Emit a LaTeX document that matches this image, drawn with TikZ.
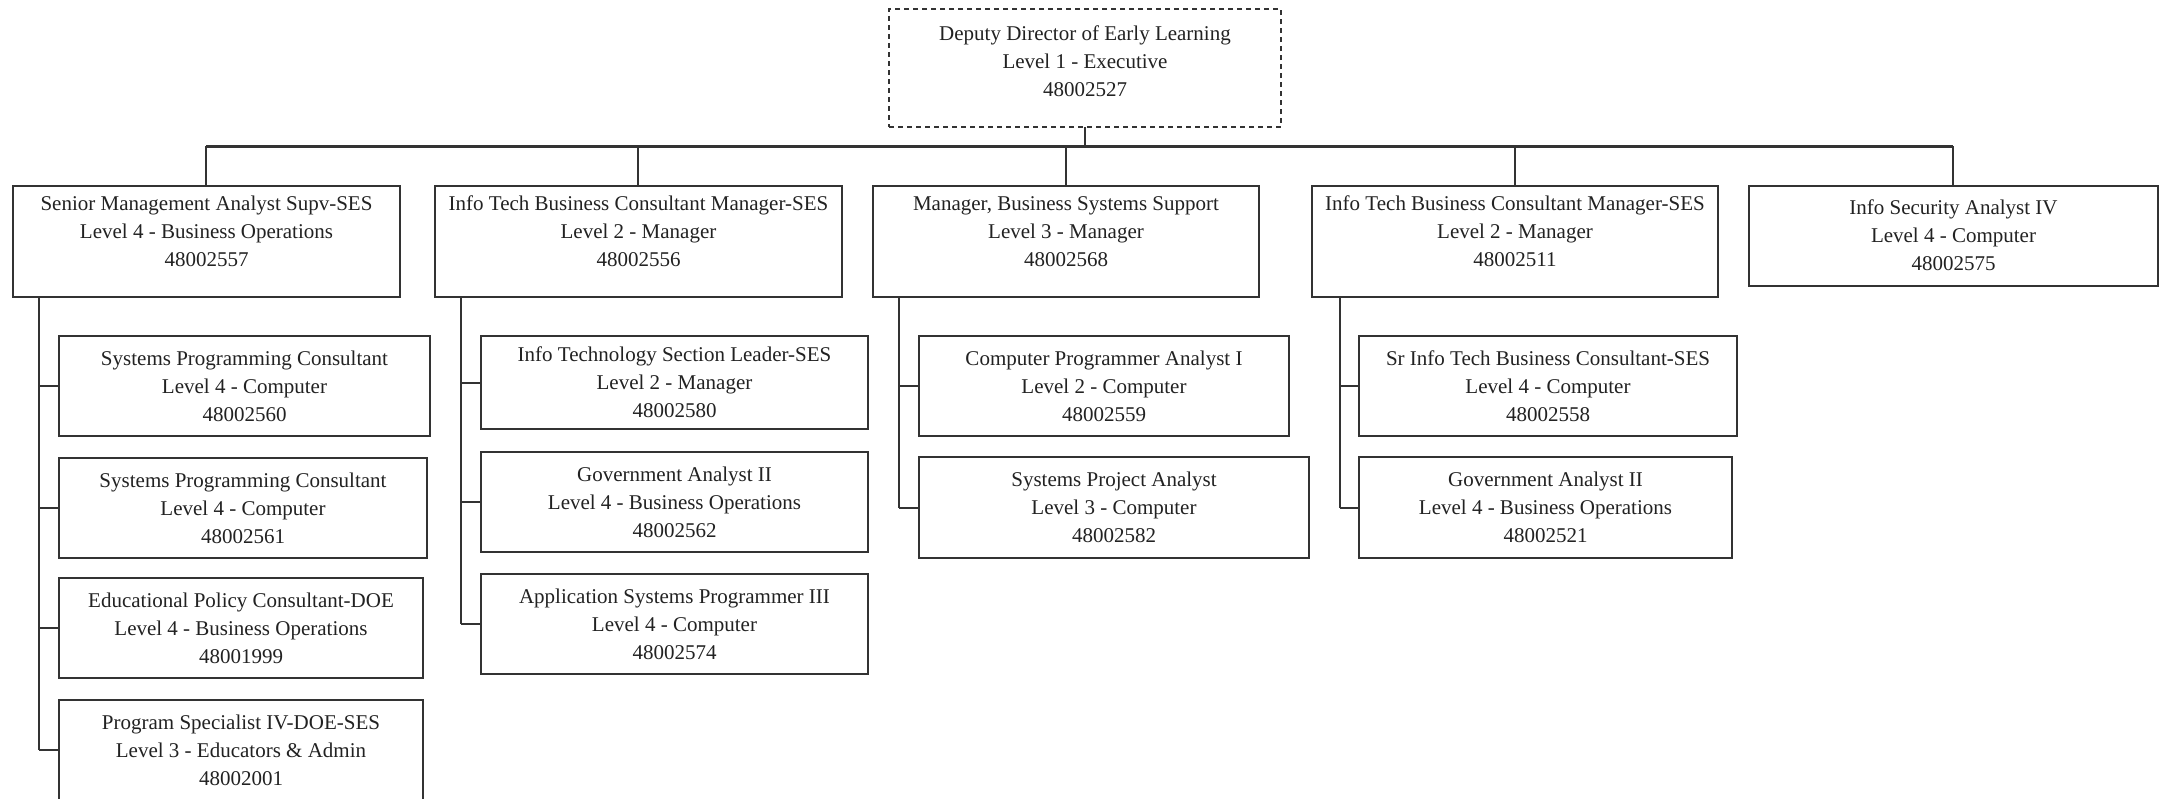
\documentclass[tikz,border=0pt]{standalone}
\usepackage{fontspec}
\setmainfont{Liberation Serif}
\usetikzlibrary{calc}
\definecolor{ink}{HTML}{222222}
\definecolor{edge}{HTML}{333333}
\tikzset{
  posbox/.style={draw=edge, line width=2.6pt, fill=white, rectangle, inner sep=0pt, outer sep=0pt},
  headbox/.style={posbox, draw=edge, line width=2pt, dash pattern=on 5pt off 4pt},
  txt/.style={align=center, text=ink, font=\fontsize{21}{28}\selectfont, inner sep=0pt},
  link/.style={draw=edge, line width=2pt},
  bus/.style={draw=edge, line width=3pt}
}
% \obox{name}{style}{x1}{y1}{x2}{y2}{text offset}{text}
\newcommand\obox[8]{%
  \node[#2, minimum width={(#5-#3)*1pt}, minimum height={(#6-#4)*1pt}]
    (#1) at ({(#3+#5)/2},{(#4+#6)/2}) {};
  \node[txt] (#1t) at ([yshift=#7pt]#1.center) {#8};
}
\begin{document}
\begin{tikzpicture}[x=1pt,y=-1pt]
\useasboundingbox (0,0) rectangle (2166,798);
\begin{scope}
\clip (0,0) rectangle (2166,798);

% spine positions for the staff under each manager
\coordinate (bus) at (1085,146);
\coordinate (ax) at (39,0);
\coordinate (bx) at (461,0);
\coordinate (cx) at (899,0);
\coordinate (dx) at (1340,0);

% connectors (drawn first, boxes cover their ends)
\coordinate (topS) at (1085,127);
\coordinate (aN) at (206,186);
\coordinate (bN) at (638,186);
\coordinate (cN) at (1066,186);
\coordinate (dN) at (1515,186);
\coordinate (eN) at (1953,186);

\draw[link] (topS) -- (topS |- bus);
\draw[bus] (aN |- bus) -- (eN |- bus);
\foreach \p in {aN,bN,cN,dN,eN} \draw[link] (\p |- bus) -- (\p);

% executive
\obox{top}{headbox}{889}{9}{1281}{127}{7}{Deputy Director of Early Learning\\Level 1 - Executive\\48002527}

% managers
\obox{A}{posbox}{13}{186}{400}{297}{10}{Senior Management Analyst Supv-SES\\Level 4 - Business Operations\\48002557}
\obox{B}{posbox}{435}{186}{842}{297}{10}{Info Tech Business Consultant Manager-SES\\Level 2 - Manager\\48002556}
\obox{C}{posbox}{873}{186}{1259}{297}{10}{Manager, Business Systems Support\\Level 3 - Manager\\48002568}
\obox{D}{posbox}{1312}{186}{1718}{297}{10}{Info Tech Business Consultant Manager-SES\\Level 2 - Manager\\48002511}
\obox{E}{posbox}{1749}{186}{2158}{286}{1}{Info Security Analyst IV\\Level 4 - Computer\\48002575}

% staff under A
\obox{A1}{posbox}{59}{336}{430}{436}{0}{Systems Programming Consultant\\Level 4 - Computer\\48002560}
\obox{A2}{posbox}{59}{458}{427}{558}{0}{Systems Programming Consultant\\Level 4 - Computer\\48002561}
\obox{A3}{posbox}{59}{578}{423}{678}{0}{Educational Policy Consultant-DOE\\Level 4 - Business Operations\\48001999}
\obox{A4}{posbox}{59}{700}{423}{800}{0}{Program Specialist IV-DOE-SES\\Level 3 - Educators \& Admin\\48002001}

% staff under B
\obox{B1}{posbox}{481}{336}{868}{429}{0}{Info Technology Section Leader-SES\\Level 2 - Manager\\48002580}
\obox{B2}{posbox}{481}{452}{868}{552}{0}{Government Analyst II\\Level 4 - Business Operations\\48002562}
\obox{B3}{posbox}{481}{574}{868}{674}{0}{Application Systems Programmer III\\Level 4 - Computer\\48002574}

% staff under C
\obox{C1}{posbox}{919}{336}{1289}{436}{0}{Computer Programmer Analyst I\\Level 2 - Computer\\48002559}
\obox{C2}{posbox}{919}{457}{1309}{558}{0}{Systems Project Analyst\\Level 3 - Computer\\48002582}

% staff under D
\obox{D1}{posbox}{1359}{336}{1737}{436}{0}{Sr Info Tech Business Consultant-SES\\Level 4 - Computer\\48002558}
\obox{D2}{posbox}{1359}{457}{1732}{558}{0}{Government Analyst II\\Level 4 - Business Operations\\48002521}

% spines and branches
\draw[link] (ax |- A.south) -- (ax |- A4.west);
\foreach \c in {A1,A2,A3,A4} \draw[link] (ax |- \c.west) -- (\c.west);
\draw[link] (bx |- B.south) -- (bx |- B3.west);
\foreach \c in {B1,B2,B3} \draw[link] (bx |- \c.west) -- (\c.west);
\draw[link] (cx |- C.south) -- (cx |- C2.west);
\foreach \c in {C1,C2} \draw[link] (cx |- \c.west) -- (\c.west);
\draw[link] (dx |- D.south) -- (dx |- D2.west);
\foreach \c in {D1,D2} \draw[link] (dx |- \c.west) -- (\c.west);
\end{scope}
\end{tikzpicture}
\end{document}
